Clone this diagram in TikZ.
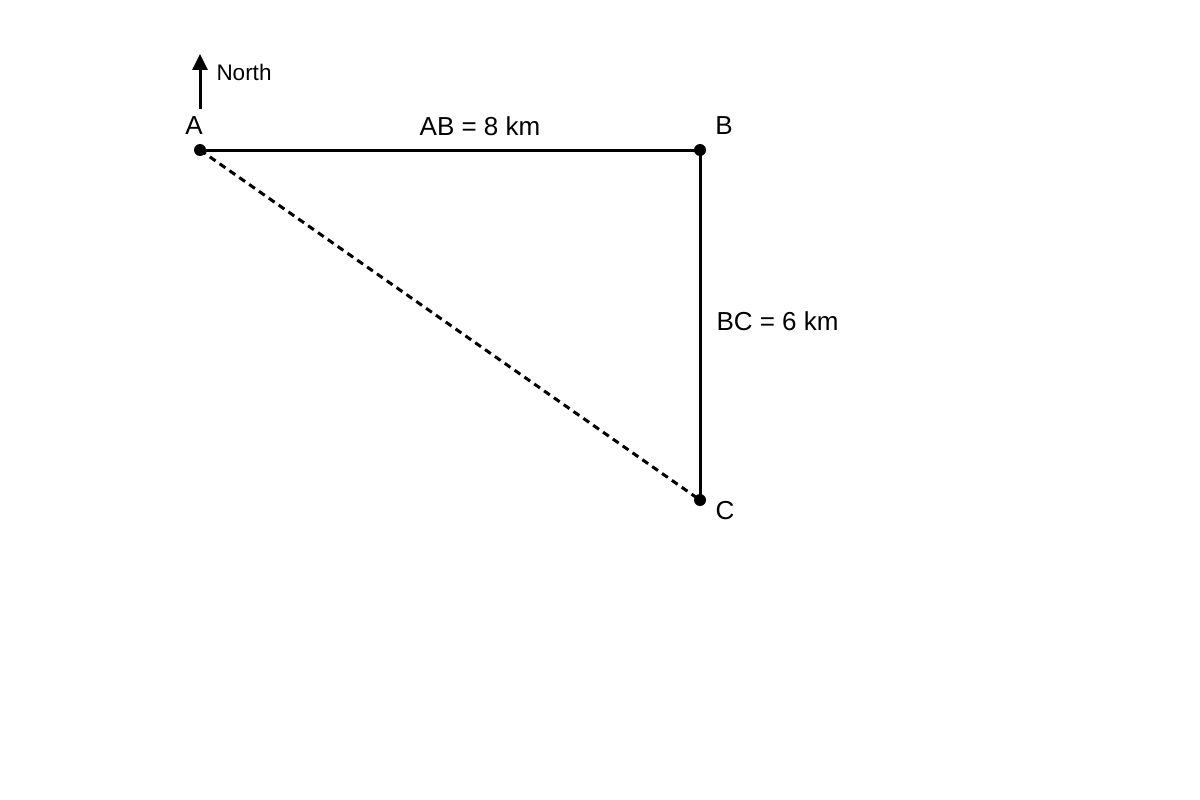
\documentclass[tikz,border=0pt]{standalone}
\usepackage{fontspec}
\setmainfont{Liberation Sans}
\usetikzlibrary{arrows.meta}
\begin{document}
\begin{tikzpicture}[x=1pt,y=-1pt,line width=3pt]
	\useasboundingbox (0,0) rectangle (1200,800);
	\begin{scope}[every node/.style={circle,fill=black,inner sep=0pt,minimum size=12pt}]
		\node (A) at (200,150) {};
		\node (B) at (700,150) {};
		\node (C) at (700,500) {};
	\end{scope}
	\begin{scope}[every node/.style={font=\fontsize{26}{30}\selectfont,inner sep=0pt}]
		\node (la) at (194,126) {A};
		\node (lb) at (724,126) {B};
		\node (lc) at (725,511) {C};
		\node (ab) at (480,126) {AB = 8 km};
		\node[anchor=west] (bc) at (715,321) {BC = 6 km};
	\end{scope}
	\coordinate (n0) at (200,109);
	\coordinate (n1) at (200,54);
	\node[anchor=west,inner sep=0pt,font=\fontsize{22.5}{26}\selectfont] (north) at (215,72) {North};
	\path [-{Triangle[length=16pt,width=15pt]}](n0) edge node {} (n1);
	\path [-](A.center) edge node {} (B.center);
	\path [-](B.center) edge node {} (C.center);
	\path [-,dash pattern=on 7pt off 5pt](A.center) edge node {} (C.center);
\end{tikzpicture}
\end{document}
